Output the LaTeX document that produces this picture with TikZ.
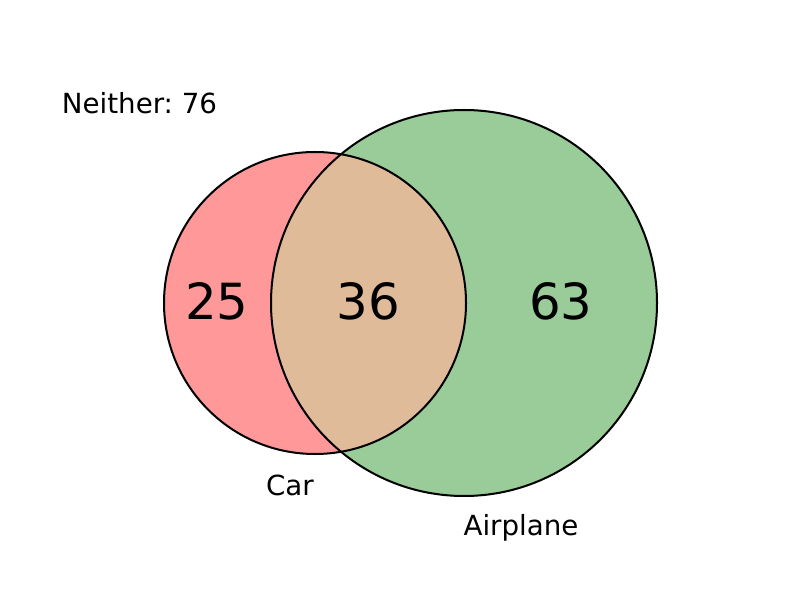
\documentclass[tikz,border=0pt]{standalone}
\usepackage{fontspec}
\setmainfont{DejaVu Sans}
\frenchspacing
\definecolor{carfill}{RGB}{255,153,153}
\definecolor{airfill}{RGB}{153,204,153}
\definecolor{bothfill}{RGB}{224,187,153}
\begin{document}
\begin{tikzpicture}[x=0.01in,y=-0.01in,
  ring/.style={draw=black,line width=1.45pt},
  setlabel/.style={font=\fontsize{20}{24}\selectfont,anchor=base,inner sep=0pt},
  count/.style={font=\fontsize{36}{43}\selectfont,anchor=base,inner sep=0pt}]
\useasboundingbox (0,0) rectangle (800,600);
\coordinate (cc) at (315,303);
\coordinate (ac) at (464,303);
\fill[carfill] (cc) circle[radius=151];
\fill[airfill] (ac) circle[radius=193];
\begin{scope}
  \clip (cc) circle[radius=151];
  \fill[bothfill] (ac) circle[radius=193];
\end{scope}
\draw[ring] (cc) circle[radius=151];
\draw[ring] (ac) circle[radius=193];
\node[count] (n25) at (217,319.5) {25};
\node[count] (n36) at (368.5,319.5) {36};
\node[count] (n63) at (561,319.5) {63};
\node[setlabel] (car) at (290,495) {Car};
\node[setlabel] (air) at (521,535.5) {Airplane};
\node[setlabel] (neither) at (139.5,114) {Neither:\ 76};
\end{tikzpicture}
\end{document}
